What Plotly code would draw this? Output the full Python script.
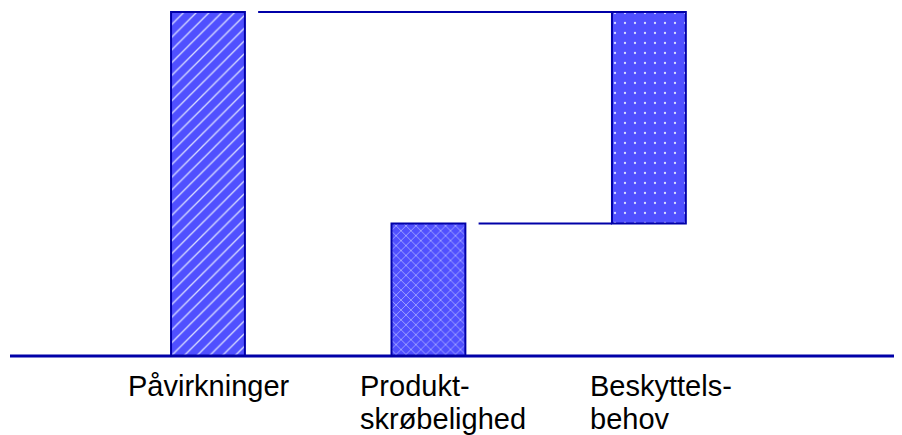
import plotly.graph_objects as go

# Data
categories = ["Påvirkninger", "Produktskrøbelighed", "Beskyttelsesbehov"]
tick_label_lines = [["Påvirkninger"], ["Produkt-", "skrøbelighed"], ["Beskyttels-", "behov"]]
impact = 100.0           # Påvirkninger
fragility = 38.5         # Produktskrøbelighed
protection = impact - fragility  # Beskyttelsesbehov (floating on top of fragility)

values = [impact, fragility, protection]
bases = [0, 0, fragility]
patterns = ["/", "x", "."]
pattern_sizes = [9, 7, 10]
pattern_solidity = [0.15, 0.15, 0.04]

xpos = list(range(len(categories)))
bar_w = 0.335
gap = 0.06

fill = "#5050FF"
edge = "#0000A8"

fig = go.Figure()

for i in range(len(categories)):
    fig.add_trace(go.Bar(
        x=[xpos[i]], y=[values[i]], base=[bases[i]], width=bar_w,
        marker=dict(color=fill,
                    line=dict(color=edge, width=2),
                    pattern=dict(shape=patterns[i], bgcolor=fill, fgcolor="#D8DCFF",
                                 size=pattern_sizes[i], solidity=pattern_solidity[i],
                                 fillmode="replace")),
        showlegend=False, hoverinfo="skip",
    ))

# Connector lines (waterfall style)
connectors = [
    (xpos[0] + bar_w / 2 + gap, xpos[2] - bar_w / 2, impact),
    (xpos[1] + bar_w / 2 + gap, xpos[2] - bar_w / 2, fragility),
]
for x0, x1, yv in connectors:
    fig.add_trace(go.Scatter(x=[x0, x1], y=[yv, yv], mode="lines",
                             line=dict(color=edge, width=2),
                             showlegend=False, hoverinfo="skip"))

label_shift = [-82, -70, -61]
for i, lines in enumerate(tick_label_lines):
    for j, t in enumerate(lines):
        fig.add_annotation(x=xpos[i], y=0, xref="x", yref="y", text=t,
                           xanchor="left", yanchor="middle", align="left",
                           xshift=label_shift[i], yshift=-30 - 33 * j, showarrow=False,
                           font=dict(family="Arial, Liberation Sans, sans-serif", size=29, color="black"))

# Baseline across the full width
fig.add_shape(type="line", xref="paper", yref="paper", x0=0, x1=1.05, y0=0, y1=0,
              line=dict(color=edge, width=3), layer="above")

fig.update_layout(
    width=894, height=427,
    margin=dict(l=2, r=0, t=0, b=79),
    paper_bgcolor="white", plot_bgcolor="white",
    barmode="overlay",
    xaxis=dict(range=[-0.898, 3.148], showgrid=False, zeroline=False,
               showticklabels=False, ticks="", showline=False, fixedrange=True),
    yaxis=dict(range=[0, 101.16], showgrid=False, zeroline=False,
               showticklabels=False, ticks="", showline=False, fixedrange=True),
)

fig.write_html("out.html")
